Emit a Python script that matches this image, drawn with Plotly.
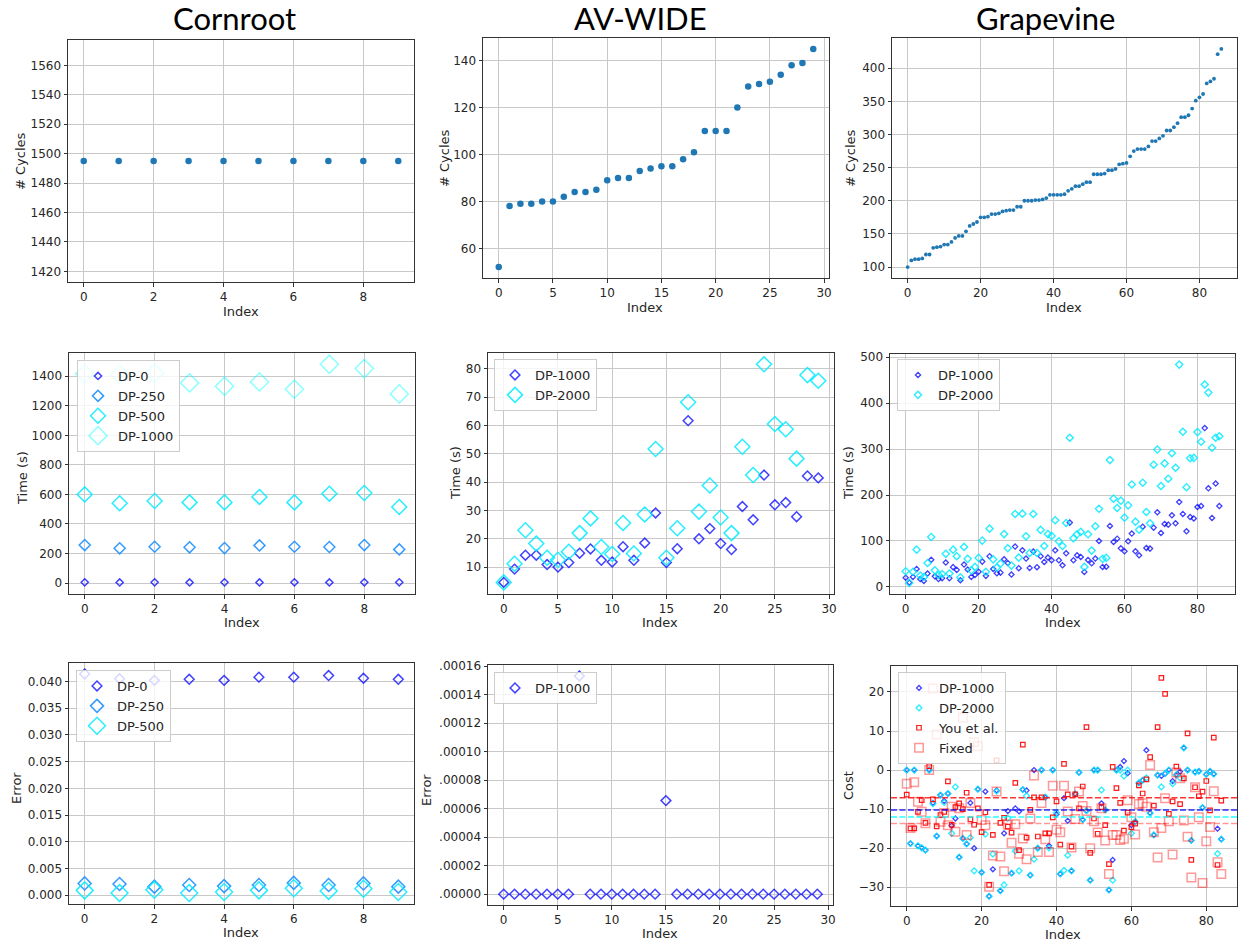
import plotly.graph_objects as go

W, H = 1243, 943

# ---------------- data ----------------
corn_idx = list(range(10))
av_idx = list(range(30))
grape_idx = list(range(87))
cost_idx = list(range(85))

corn_cycles = [1495, 1495, 1495, 1495, 1495, 1495, 1495, 1495, 1495, 1495]
av_cycles = [52, 78, 79, 79, 80, 80, 82, 84, 84, 85, 89, 90, 90, 93, 94, 95, 95, 98, 101, 110,
             110, 110, 120, 129, 130, 131, 134, 138, 139, 145]
grape_cycles = [100, 110, 112, 112, 113, 119, 119, 129, 130, 131,
                134, 134, 138, 144, 147, 147, 154, 162, 165, 168,
                175, 175, 176, 180, 180, 181, 184, 185, 186, 186,
                191, 191, 200, 200, 200, 201, 201, 202, 204, 209,
                209, 209, 209, 210, 215, 218, 222, 222, 225, 228,
                228, 240, 240, 240, 241, 246, 246, 248, 255, 256,
                257, 267, 275, 278, 278, 278, 282, 290, 290, 294,
                298, 306, 306, 311, 317, 326, 326, 329, 339, 351,
                356, 361, 377, 380, 384, 421, 429]

corn_time_dp0 = [5, 4, 5, 4, 5, 4, 5, 4, 5, 5]
corn_time_dp250 = [257, 235, 246, 242, 237, 255, 246, 244, 257, 228]
corn_time_dp500 = [600, 540, 555, 546, 546, 583, 546, 605, 610, 515]
corn_time_dp1000 = [1416, 1412, 1422, 1355, 1332, 1361, 1312, 1481, 1452, 1280]

av_time_dp1000 = [4.6, 9.3, 14.2, 14.2, 10.9, 10.0, 11.6, 14.9, 16.4, 12.4,
                  11.8, 17.2, 12.4, 18.5, 29.1, 11.6, 16.5, 61.7, 20.0, 23.6,
                  18.3, 16.2, 31.4, 26.7, 42.5, 32.0, 32.8, 27.8, 42.2, 41.5]
av_time_dp2000 = [4.6, 11.2, 23.0, 18.3, 13.3, 12.6, 15.4, 22.0, 27.2, 17.1,
                  14.6, 25.6, 14.8, 28.6, 51.7, 13.3, 23.7, 68.2, 29.6, 38.8,
                  27.5, 22.0, 52.5, 42.5, 81.6, 60.5, 58.7, 48.3, 77.8, 75.8]

grape_time_dp1000 = [20, 9.4, 21.7, 39, 17, 13, 29, 59, 23, 17,
                     19, 53, 19, 43, 37, 14.5, 48.5, 37.7, 21.7, 26,
                     33, 55, 24, 66.7, 39, 29.7, 31, 60, 52, 26.8,
                     87.7, 40.6, 79.7, 61.6, 41.3, 76.8, 42.8, 66.7, 54.3, 63.8,
                     58, 79.7, 58, 47, 73, 139.9, 58, 68.8, 65.2, 32.6,
                     58.7, 51.4, 61.6, 100, 43.5, 44, 132.6, 97.8, 105, 84,
                     77.5, 99.3, 116, 77.5, 68.8, 131, 84.8, 83.3, 129, 162.3,
                     117.4, 137, 135.5, 155.8, 138.4, 184.8, 158.7, 121, 152, 149,
                     174, 176, 345.7, 214.5, 150, 225, 176]
grape_time_dp2000 = [34, 8.7, 33, 81, 24.6, 21.7, 52, 108.7, 36, 26,
                     28, 72, 29, 81, 66.7, 21, 87, 61, 36, 43.5,
                     63, 100.7, 33, 126.8, 60, 42, 50.7, 115, 84, 46.4,
                     158.7, 63.8, 159.4, 110, 74, 158.7, 74, 124, 89, 115,
                     111, 145, 99.3, 89, 139, 324.6, 105.8, 114.5, 119.6, 43.5,
                     114.5, 79, 132, 170, 61, 63, 276, 192, 171.7, 187.7,
                     150.7, 177.5, 223, 142, 124.6, 226.8, 163, 138.4, 266, 299,
                     219.6, 268.8, 235.5, 291, 259.4, 484, 337.7, 217, 280, 281,
                     337, 316, 440.6, 423, 303, 324.6, 328]

corn_err_dp0 = [0.0414, 0.0405, 0.0402, 0.0404, 0.0402, 0.0408, 0.0408, 0.0411, 0.0406, 0.0404]
corn_err_dp250 = [0.0022, 0.0021, 0.0016, 0.0019, 0.0017, 0.0019, 0.0023, 0.0019, 0.0022, 0.0016]
corn_err_dp500 = [0.0009, 0.0004, 0.0010, 0.0004, 0.0006, 0.0009, 0.0013, 0.0008, 0.0012, 0.0006]

av_err_dp1000 = [0.0, 0.0, 0.0, 0.0, 0.0, 0.0, 0.0, 0.000153, 0.0, 0.0,
                 0.0, 0.0, 0.0, 0.0, 0.0, 0.0000656, 0.0, 0.0, 0.0, 0.0,
                 0.0, 0.0, 0.0, 0.0, 0.0, 0.0, 0.0, 0.0, 0.0, 0.0]

cost_dp1000 = [0, -18.8, 0, -19.4, -19.9, -20.5, 0, -8.4, -16.9, -6.4,
               -7.9, -6.0, -14.2, -12.4, -22.3, -17.5, -18.9, -8.4, -20.0, -4.9,
               -26.2, -5.5, -32.3, -25.4, -5.2, -30.9, -16.2, -10.5, -26.4, -9.8,
               -10.6, -5.0, -5.2, -26.9, 0, -20.0, 0, -7.0, -19.4, 0,
               -11.3, -26.6, -7.2, -13.0, -25.8, -6.1, -0.6, -12.7, -10.4, -28.2,
               0, 0, -8.5, -10.2, -30.7, -23.0, 0, 0.8, 2.3, -0.8,
               -14.1, -13.2, -3.3, -2.6, 5.1, -11.0, -16.6, -1.3, -1.5, -0.9,
               0, -2.8, -1.2, -0.4, 5.7, 0, -18.0, -0.5, -0.3, -9.6,
               -1.1, -0.3, -1.0, -15.0, -17.7]
cost_dp2000 = [0, -18.8, 0, -19.4, -19.9, -20.5, 0, -8.6, -16.9, -6.4,
               -8.3, -6.0, -16.2, -4.3, -22.3, -17.5, -18.9, -17.3, -25.8, -4.9,
               -26.2, -16.4, -32.3, -21.5, -5.4, -30.9, -29.4, -12.3, -26.4, -20.7,
               -25.8, -5.0, -6.6, -26.9, -22.8, -20.0, 0, -6.9, -19.9, 0,
               -10.9, -26.6, -25.7, -21.8, -25.8, -6.1, -0.6, -12.7, -10.4, -28.2,
               0, 0, -5.1, -10.2, -30.7, -28.2, 0, 0, -1.5, 0,
               -16.2, -13.2, -3.3, -2.6, -2.0, -11.0, -16.6, -1.3, -4.3, -0.9,
               0, -3.5, -1.2, -2.0, 5.7, 0, -18.0, -0.5, -0.3, -9.6,
               -1.1, -0.3, -1.0, -21.4, -17.7]
cost_you = [-6.3, -14.9, -14.9, -10.7, -7.7, -13.5, 1.0, -7.5, -14.4, -11.5,
            -10.7, -2.9, -14.0, -9.5, -8.5, -10.0, -5.8, -12.6, -14.0, -9.8,
            -15.9, -10.8, -29.4, -16.6, 2.5, -13.5, -12.2, -14.5, -16.0, -3.3,
            -20.5, 6.5, -17.3, -10.2, -7.0, -17.0, -7.0, -16.2, -16.2, -12.1,
            -8.0, -19.1, 1.6, -6.2, -19.6, -6.2, -9.8, -4.2, 11.0, -21.2,
            -12.4, -16.3, -9.5, -14.1, -24.1, 0.8, -4.6, -8.4, -15.5, -10.9,
            -14.6, -13.7, -3.9, -6.0, -2.4, 3.3, -9.1, 11.0, 23.6, 19.5,
            -11.2, -8.0, 0.9, -8.7, -2.1, 9.4, -23.0, -4.4, -6.7, -5.5,
            -2.8, -10.3, 8.3, -24.3, -7.8]
cost_fixed = [-3.5, -14.8, -3.1, -8.1, -10.7, -13.6, 0.0, 20.9, 9.1, -13.2,
              -11.0, -14.1, -9.4, -15.8, -9.8, 13.4, -16.6, -8.4, 7.2, 6.1,
              -12.8, -14.1, -29.9, -21.9, -5.5, -22.1, -25.9, -14.0, -18.6, -13.9,
              -21.4, -17.5, -22.8, -12.4, -1.4, -21.0, -8.4, -17.7, -21.0, -4.0,
              -15.3, -15.9, -4.0, -10.6, -19.8, -12.5, -5.5, -9.2, -10.5, -20.0,
              -13.1, -16.0, -9.8, -18.0, -26.6, -16.6, -16.6, -17.9, -17.6, -7.7,
              -12.1, -16.5, -8.7, -8.5, -9.4, 1.3, -15.9, -22.4, -14.8, -7.2,
              -13.1, -21.6, -0.6, -2.1, -12.9, -17.1, -27.5, -4.4, -12.1, -28.9,
              -18.2, -14.6, -5.4, -23.6, -26.6]

cost_mean_you = -7.1
cost_mean_dp1000 = -10.2
cost_mean_dp2000 = -12.0
cost_mean_fixed = -13.7

column_titles = ["Cornroot", "AV-WIDE", "Grapevine"]
err_ticks_av = [0.0, 0.00002, 0.00004, 0.00006, 0.00008, 0.00010, 0.00012, 0.00014, 0.00016]
err_ticktext_av = [".00000", ".00002", ".00004", ".00006", ".00008", ".00010", ".00012", ".00014", ".00016"]

# ---------------- styling ----------------
FONT = "DejaVu Sans"
FS = 12
TXT = "#262626"
BLUE = "rgba(0,0,255,0.75)"
DBLUE = "rgba(30,144,255,0.9)"
CYAN = "rgba(0,235,255,0.85)"
LCYAN = "rgba(0,255,255,0.45)"
RED = "rgba(255,0,0,0.9)"
SALMON = "rgba(255,0,0,0.4)"
C0 = "#1f77b4"

# panel geometry in pixels: (left, right, top, bottom)
panels = {
    1: dict(px=(68, 414, 40, 282), xr=[-0.45, 9.45], yr=[1412.75, 1577.25], xd=2, yd=20, y0=1420),
    2: dict(px=(483, 829, 38, 278), xr=[-1.45, 30.45], yr=[47.35, 149.65], xd=5, yd=20, y0=60),
    3: dict(px=(892, 1237, 38, 278), xr=[-4.3, 90.3], yr=[83.55, 445.45], xd=20, yd=50, y0=100),
    4: dict(px=(69, 415, 353, 594), xr=[-0.45, 9.45], yr=[-74, 1557], xd=2, yd=200, y0=0),
    5: dict(px=(488, 834, 353, 594), xr=[-1.45, 30.45], yr=[0.5, 85.6], xd=5, yd=10, y0=10),
    6: dict(px=(890, 1235, 354, 594), xr=[-4.3, 90.3], yr=[-15.5, 507], xd=20, yd=100, y0=0),
    7: dict(px=(69, 414, 663, 904), xr=[-0.45, 9.45], yr=[-0.00165, 0.04345], xd=2, yd=0.005, y0=0),
    8: dict(px=(488, 833, 665, 905), xr=[-1.45, 30.45], yr=[-0.0000076, 0.0001607], xd=5, yd=None, y0=0),
    9: dict(px=(891, 1237, 666, 906), xr=[-4.2, 88.2], yr=[-34.8, 26.65], xd=20, yd=10, y0=0),
}

fig = go.Figure()


def axn(i, letter):
    return letter if i == 1 else f"{letter}{i}"


def add(i, x, y, name=None, symbol="circle", size=6, color=C0, lw=1.5, legend=None):
    marker = dict(symbol=symbol, size=size, color=color)
    if symbol.endswith("-open"):
        marker["line"] = dict(width=lw, color=color)
    else:
        marker["line"] = dict(width=0)
    kw = {}
    if legend is not None:
        kw["legend"] = legend
    fig.add_trace(go.Scatter(x=x, y=y, mode="markers", name=name, marker=marker,
                             xaxis=axn(i, "x"), yaxis=axn(i, "y"),
                             showlegend=name is not None, **kw))


# Row 1: cycles
add(1, corn_idx, corn_cycles, size=6.5)
add(2, av_idx, av_cycles, size=6.5)
add(3, grape_idx, grape_cycles, size=3.8)

# Row 2: time
add(4, corn_idx, corn_time_dp0, "DP-0", "diamond-open", 5.5, BLUE, 1.5, "legend")
add(4, corn_idx, corn_time_dp250, "DP-250", "diamond-open", 8.5, DBLUE, 1.5, "legend")
add(4, corn_idx, corn_time_dp500, "DP-500", "diamond-open", 11.5, CYAN, 1.5, "legend")
add(4, corn_idx, corn_time_dp1000, "DP-1000", "diamond-open", 14, LCYAN, 1.5, "legend")
add(5, av_idx, av_time_dp1000, "DP-1000", "diamond-open", 7.5, BLUE, 1.5, "legend2")
add(5, av_idx, av_time_dp2000, "DP-2000", "diamond-open", 11.5, CYAN, 1.5, "legend2")
add(6, grape_idx, grape_time_dp1000, "DP-1000", "diamond-open", 4, BLUE, 1.3, "legend3")
add(6, grape_idx, grape_time_dp2000, "DP-2000", "diamond-open", 5.5, CYAN, 1.4, "legend3")

# Row 3: error / cost
add(7, corn_idx, corn_err_dp0, "DP-0", "diamond-open", 7.5, BLUE, 1.5, "legend4")
add(7, corn_idx, corn_err_dp250, "DP-250", "diamond-open", 10, DBLUE, 1.5, "legend4")
add(7, corn_idx, corn_err_dp500, "DP-500", "diamond-open", 13, CYAN, 1.5, "legend4")
add(8, av_idx, av_err_dp1000, "DP-1000", "diamond-open", 7.5, BLUE, 1.5, "legend5")
add(9, cost_idx, cost_dp1000, "DP-1000", "diamond-open", 3.8, BLUE, 1.3, "legend6")
add(9, cost_idx, cost_dp2000, "DP-2000", "diamond-open", 4.5, CYAN, 1.3, "legend6")
add(9, cost_idx, cost_you, "You et al.", "square-open", 4.5, RED, 1.2, "legend6")
add(9, cost_idx, cost_fixed, "Fixed", "square-open", 8.5, SALMON, 1.5, "legend6")

# mean lines (cost panel)
for val, col in [(cost_mean_you, "rgba(255,0,0,0.8)"), (cost_mean_dp1000, "rgba(0,0,255,0.8)"),
                 (cost_mean_dp2000, "rgba(0,255,255,0.85)"), (cost_mean_fixed, "rgba(255,0,0,0.4)")]:
    fig.add_shape(type="line", xref="x9 domain", yref="y9", x0=0, x1=1, y0=val, y1=val,
                  line=dict(color=col, width=1.5, dash="6px,2.5px"), layer="above")

axis_common = dict(showgrid=True, gridcolor="#c8c8c8", gridwidth=1, showline=True, mirror=True,
                   linecolor="#333333", linewidth=1, ticks="outside", ticklen=3.5, tickcolor="#333333",
                   tickfont=dict(family=FONT, size=FS, color=TXT), zeroline=False, automargin=False)

layout = {}
for i, p in panels.items():
    l, r, t, b = p["px"]
    xa = dict(axis_common, domain=[l / W, r / W], range=p["xr"], dtick=p["xd"], tick0=0,
              anchor=axn(i, "y"))
    ya = dict(axis_common, domain=[1 - b / H, 1 - t / H], range=p["yr"], anchor=axn(i, "x"))
    if i == 8:
        ya.update(tickmode="array", tickvals=err_ticks_av, ticktext=err_ticktext_av)
    else:
        ya.update(dtick=p["yd"], tick0=p["y0"])
    if i == 7:
        ya.update(tickformat=".3f")
    layout["xaxis" if i == 1 else f"xaxis{i}"] = xa
    layout["yaxis" if i == 1 else f"yaxis{i}"] = ya

legend_common = dict(bgcolor="rgba(255,255,255,0.8)", bordercolor="#cccccc", borderwidth=1,
                     font=dict(family=FONT, size=FS + 1, color=TXT), xanchor="left", yanchor="top",
                     itemsizing="trace", tracegroupgap=0)
legend_pos = {"legend": (77, 360), "legend2": (494, 359), "legend3": (897, 359),
              "legend4": (76, 670), "legend5": (494, 672), "legend6": (898, 672)}
for k, (lx, ly) in legend_pos.items():
    layout[k] = dict(legend_common, x=lx / W, y=1 - ly / H)

fig.update_layout(**layout)

ann = []
# column titles
for txt, cx in zip(column_titles, [235, 640, 1045]):
    ann.append(dict(text=txt, x=cx / W, y=1 - 18 / H, xref="paper", yref="paper", showarrow=False,
                    font=dict(family="Lato", size=31, color="#000000"), xanchor="center", yanchor="middle"))
# axis titles
axis_titles = [
    ("# Cycles", 20, 161, -90), ("# Cycles", 445, 158, -90), ("# Cycles", 851, 158, -90),
    ("Index", 241, 311, 0), ("Index", 645, 307, 0), ("Index", 1064, 307, 0),
    ("Time (s)", 22, 478, -90), ("Time (s)", 455, 473, -90), ("Time (s)", 848, 473, -90),
    ("Index", 242, 622, 0), ("Index", 660, 622, 0), ("Index", 1063, 622, 0),
    ("Error", 16, 788, -90), ("Error", 426, 790, -90), ("Cost", 848, 785, -90),
    ("Index", 241, 932, 0), ("Index", 660, 933, 0), ("Index", 1063, 934, 0),
]
for txt, cx, cy, ang in axis_titles:
    ann.append(dict(text=txt, x=cx / W, y=1 - cy / H, xref="paper", yref="paper", showarrow=False,
                    textangle=ang, font=dict(family=FONT, size=FS + 1, color=TXT),
                    xanchor="center", yanchor="middle"))

fig.update_layout(width=W, height=H, margin=dict(l=0, r=0, t=0, b=0),
                  paper_bgcolor="white", plot_bgcolor="white", annotations=ann,
                  font=dict(family=FONT, size=FS, color=TXT))

fig.write_html("out.html", config={"displayModeBar": False},
               post_script="document.body.style.margin='0';document.body.style.overflow='hidden';")
